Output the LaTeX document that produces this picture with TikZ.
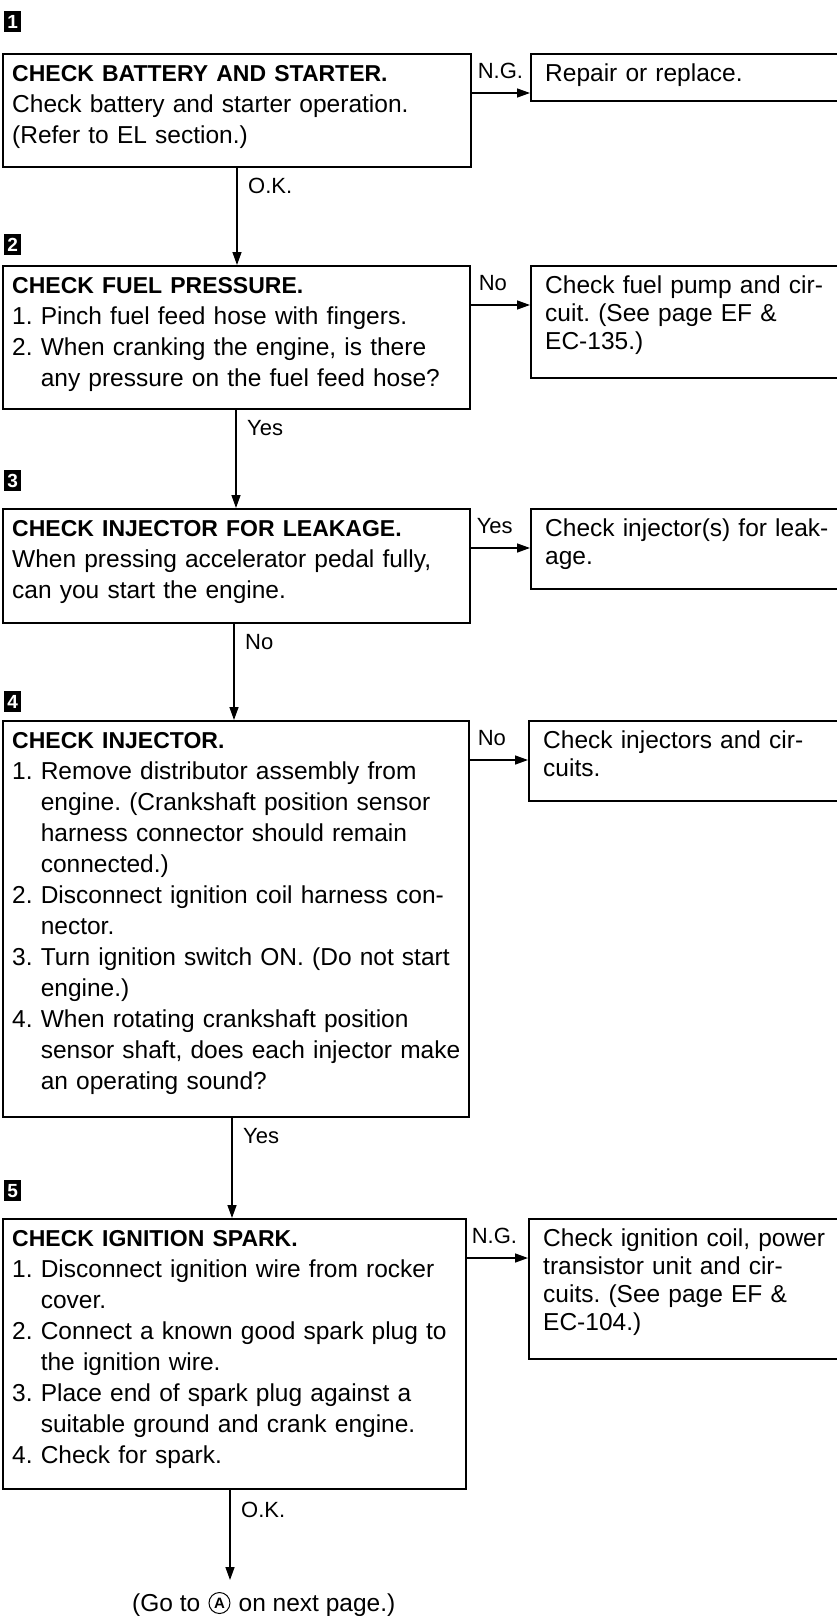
\documentclass[tikz,border=0pt]{standalone}
\usepackage{fontspec}
\setmainfont{Liberation Sans}
\usetikzlibrary{arrows.meta,calc,positioning}
\frenchspacing
\newcommand\steptitle{\bfseries\fontsize{23}{31}\selectfont}
\newcommand\fst{\rule{0pt}{22pt}}
\newcommand\ind[1]{\hphantom{#1.\ }}
\begin{document}
\begin{tikzpicture}[x=1pt,y=-1pt,
  box/.style={draw, line width=1.6pt, anchor=north west, inner sep=0pt},
  txt/.style={anchor=north west, inner sep=0pt, text width=450pt, align=left, font=\fontsize{24.5}{31}\selectfont},
  rtxt/.style={anchor=north west, inner sep=0pt, text width=290pt, align=left, font=\fontsize{24.5}{28}\selectfont},
  badge/.style={fill=black, text=white, anchor=north west, inner sep=0pt, minimum width=17pt, minimum height=21pt, font=\bfseries\fontsize{19}{19}\selectfont},
  lbl/.style={anchor=west, inner sep=0pt, font=\fontsize{22}{22}\selectfont},
  arr/.style={line width=1.4pt, -{Triangle[length=13pt,width=9pt]}},
]
\useasboundingbox (0,0) rectangle (836,1616);

% ---------- step 1
\node[badge] (n1) at (4,11) {1};
\node[box, minimum width=468pt, minimum height=113pt] (b1) at (2,53) {};
\node[txt] (t1) at ($(b1.north west)+(10,6)$) {\fst{\steptitle CHECK BATTERY AND STARTER.}\\Check battery and starter operation.\\(Refer to EL section.)};
\node[box, minimum width=330pt, minimum height=47pt] (r1) at (530,53) {};
\node[rtxt] (rt1) at ($(r1.north west)+(15,6)$) {\fst Repair or replace.};
\draw[arr] ($(b1.north east)+(0,40)$) -- ($(r1.north west)+(0,40)$);
\node[lbl] (h1) at ($(b1.north east)+(6,18)$) {N.G.};

% ---------- step 2
\node[badge] (n2) at (4,234) {2};
\node[box, minimum width=467pt, minimum height=143pt] (b2) at (2,265) {};
\node[txt] (t2) at ($(b2.north west)+(10,6)$) {\fst{\steptitle CHECK FUEL PRESSURE.}\\1. Pinch fuel feed hose with fingers.\\2. When cranking the engine, is there\\\ind{2}any pressure on the fuel feed hose?};
\node[box, minimum width=330pt, minimum height=112pt] (r2) at (530,265) {};
\node[rtxt] (rt2) at ($(r2.north west)+(15,6)$) {\fst Check fuel pump and cir-\\cuit. (See page EF \&\\EC-135.)};
\draw[arr] ($(b2.north east)+(0,40)$) -- ($(r2.north west)+(0,40)$);
\node[lbl] (h2) at ($(b2.north east)+(8,18)$) {No};

% ---------- step 3
\node[badge] (n3) at (4,470) {3};
\node[box, minimum width=467pt, minimum height=114pt] (b3) at (2,508) {};
\node[txt] (t3) at ($(b3.north west)+(10,6)$) {\fst{\steptitle CHECK INJECTOR FOR LEAKAGE.}\\When pressing accelerator pedal fully,\\can you start the engine.};
\node[box, minimum width=330pt, minimum height=80pt] (r3) at (530,508) {};
\node[rtxt] (rt3) at ($(r3.north west)+(15,6)$) {\fst Check injector(s) for leak-\\age.};
\draw[arr] ($(b3.north east)+(0,40)$) -- ($(r3.north west)+(0,40)$);
\node[lbl] (h3) at ($(b3.north east)+(6,18)$) {Yes};

% ---------- step 4
\node[badge] (n4) at (4,691) {4};
\node[box, minimum width=466pt, minimum height=396pt] (b4) at (2,720) {};
\node[txt] (t4) at ($(b4.north west)+(10,6)$) {\fst{\steptitle CHECK INJECTOR.}\\
1. Remove distributor assembly from\\
\ind{1}engine. (Crankshaft position sensor\\
\ind{1}harness connector should remain\\
\ind{1}connected.)\\
2. Disconnect ignition coil harness con-\\
\ind{2}nector.\\
3. Turn ignition switch ON. (Do not start\\
\ind{3}engine.)\\
4. When rotating crankshaft position\\
\ind{4}sensor shaft, does each injector make\\
\ind{4}an operating sound?};
\node[box, minimum width=332pt, minimum height=80pt] (r4) at (528,720) {};
\node[rtxt] (rt4) at ($(r4.north west)+(15,6)$) {\fst Check injectors and cir-\\cuits.};
\draw[arr] ($(b4.north east)+(0,40)$) -- ($(r4.north west)+(0,40)$);
\node[lbl] (h4) at ($(b4.north east)+(8,18)$) {No};

% ---------- step 5
\node[badge] (n5) at (4,1180) {5};
\node[box, minimum width=463pt, minimum height=270pt] (b5) at (2,1218) {};
\node[txt] (t5) at ($(b5.north west)+(10,6)$) {\fst{\steptitle CHECK IGNITION SPARK.}\\
1. Disconnect ignition wire from rocker\\
\ind{1}cover.\\
2. Connect a known good spark plug to\\
\ind{2}the ignition wire.\\
3. Place end of spark plug against a\\
\ind{3}suitable ground and crank engine.\\
4. Check for spark.};
\node[box, minimum width=332pt, minimum height=140pt] (r5) at (528,1218) {};
\node[rtxt] (rt5) at ($(r5.north west)+(15,6)$) {\fst Check ignition coil, power\\transistor unit and cir-\\cuits. (See page EF \&\\EC-104.)};
\draw[arr] ($(b5.north east)+(0,40)$) -- ($(r5.north west)+(0,40)$);
\node[lbl] (h5) at ($(b5.north east)+(5,18)$) {N.G.};

% ---------- vertical connectors
\coordinate (ax1) at (237,0);
\coordinate (ax2) at (236,0);
\coordinate (ax3) at (234,0);
\coordinate (ax4) at (232,0);
\coordinate (endp) at (230,1580);
\draw[arr] (b1.south -| ax1) -- (b2.north -| ax1);
\path (b1.south -| ax1) ++(11,18) node[lbl] (v1) {O.K.};
\draw[arr] (b2.south -| ax2) -- (b3.north -| ax2);
\path (b2.south -| ax2) ++(11,18) node[lbl] (v2) {Yes};
\draw[arr] (b3.south -| ax3) -- (b4.north -| ax3);
\path (b3.south -| ax3) ++(11,18) node[lbl] (v3) {No};
\draw[arr] (b4.south -| ax4) -- (b5.north -| ax4);
\path (b4.south -| ax4) ++(11,18) node[lbl] (v4) {Yes};
\draw[arr] (b5.south -| endp) -- (endp);
\path (b5.south -| endp) ++(11,20) node[lbl] (v5) {O.K.};

% ---------- go to
\node[anchor=base west, inner sep=0pt, font=\fontsize{24.5}{28}\selectfont] (go1) at (132,1611) {(Go to};
\node[circle, draw, line width=1pt, inner sep=0pt, minimum size=21pt, font=\bfseries\fontsize{15}{15}\selectfont] (circA) at ($(go1.base east)+(19,-8)$) {A};
\node[anchor=base west, inner sep=0pt, font=\fontsize{24.5}{28}\selectfont] (go2) at ($(go1.base east)+(38,0)$) {on next page.)};
\end{tikzpicture}
\end{document}
